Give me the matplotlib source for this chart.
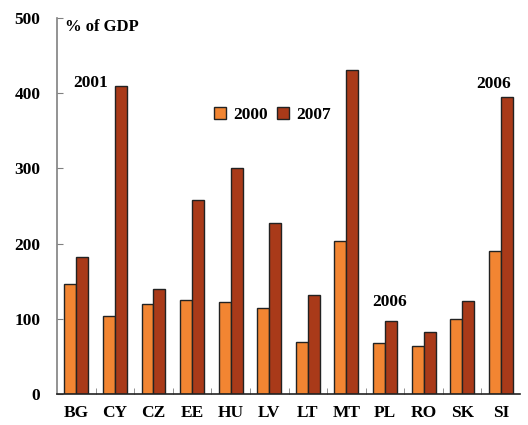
import numpy as np
import matplotlib.pyplot as plt

countries = ['BG', 'CY', 'CZ', 'EE', 'HU', 'LV', 'LT', 'MT', 'PL', 'RO', 'SK', 'SI']
val_2000 = [146, 104, 120, 125, 122, 114, 69, 203, 68, 64, 100, 190]
val_2007 = [182, 410, 140, 258, 300, 227, 132, 431, 97, 82, 124, 395]

orange = '#F28532'
brown = '#A93A19'

plt.rcParams['font.family'] = ['Liberation Serif', 'DejaVu Serif']
plt.rcParams['font.weight'] = 'bold'

fig = plt.figure(figsize=(5.28, 4.25), dpi=100)
ax = fig.add_axes([0.108, 0.073, 0.877, 0.885])

x = np.arange(len(countries))
w = 0.31
ax.bar(x - w / 2, val_2000, w, color=orange, edgecolor='#222222', linewidth=1.0, label='2000')
ax.bar(x + w / 2, val_2007, w, color=brown, edgecolor='#222222', linewidth=1.0, label='2007')

ax.set_xlim(-0.5, len(countries) - 0.5)
ax.set_ylim(0, 500)
ax.set_yticks([0, 100, 200, 300, 400, 500])
ax.set_xticks(x)
ax.set_xticklabels(countries)
ax.set_xticks(np.arange(0.5, len(countries) - 0.5, 1), minor=True)

ax.spines['top'].set_visible(False)
ax.spines['right'].set_visible(False)
ax.spines['left'].set_color('#808080')
ax.spines['left'].set_linewidth(1.2)
ax.spines['bottom'].set_color('#222222')
ax.spines['bottom'].set_linewidth(1.2)

ax.tick_params(axis='y', direction='in', length=4, color='#808080', labelsize=12.5, pad=12)
ax.tick_params(axis='x', which='major', length=0, labelsize=12.5, pad=8)
ax.tick_params(axis='x', which='minor', direction='in', length=4, color='#808080')

ax.text(-0.29, 488, '% of GDP', fontsize=12, fontweight='bold', ha='left', va='center')
ax.text(0.38, 414, '2001', fontsize=12.5, fontweight='bold', ha='center', va='center')
ax.text(8.13, 122, '2006', fontsize=12.5, fontweight='bold', ha='center', va='center')
ax.text(10.82, 412, '2006', fontsize=12.5, fontweight='bold', ha='center', va='center')

ax.legend(loc='center', bbox_to_anchor=(0.465, 0.742), ncol=2, frameon=False,
          fontsize=12.5, handlelength=0.7, handleheight=0.7, handletextpad=0.4,
          columnspacing=0.5)

plt.savefig('out.png', dpi=100)
